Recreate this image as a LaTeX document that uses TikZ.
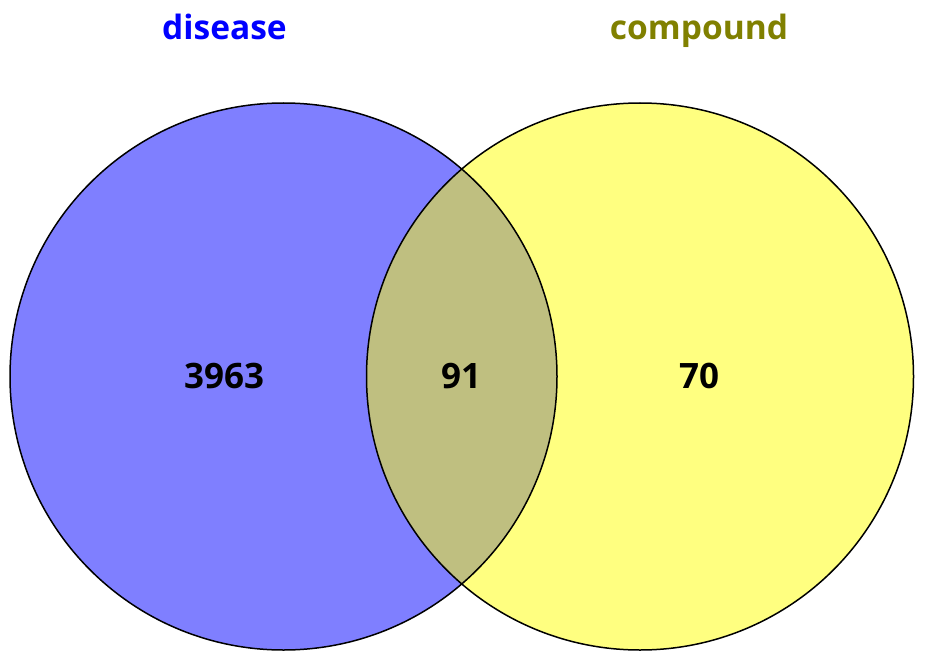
\documentclass[tikz,border=0pt]{standalone}
\usepackage{fontspec}
\setmainfont{Open Sans}
\definecolor{vblue}{HTML}{7F7FFF}
\definecolor{vyellow}{HTML}{FFFF80}
\definecolor{vmix}{HTML}{BFBF80}
\definecolor{tblue}{HTML}{0000FF}
\definecolor{tolive}{HTML}{808000}
\begin{document}
\begin{tikzpicture}[x=1pt,y=-1pt,
  setlabel/.style={font=\fontsize{33.5}{40}\selectfont\bfseries,anchor=base},
  countlabel/.style={font=\fontsize{35}{42}\selectfont\bfseries,anchor=base,text=black},
  ring/.style={draw=black,line width=1.5pt}]
\useasboundingbox (0,0) rectangle (948,658);
\fill[vblue] (283.5,376.5) circle (273.5);
\fill[vyellow] (640,376.5) circle (273.5);
\begin{scope}
  \clip (283.5,376.5) circle (273.5);
  \fill[vmix] (640,376.5) circle (273.5);
\end{scope}
\draw[ring] (283.5,376.5) circle (273.5);
\draw[ring] (640,376.5) circle (273.5);
\node[setlabel,text=tblue] (lA) at (224.5,40) {disease};
\node[setlabel,text=tolive] (lB) at (699,40) {compound};
\node[countlabel] (nA) at (224,388) {3963};
\node[countlabel] (nAB) at (461,388) {91};
\node[countlabel] (nB) at (699,388) {70};
\end{tikzpicture}
\end{document}
